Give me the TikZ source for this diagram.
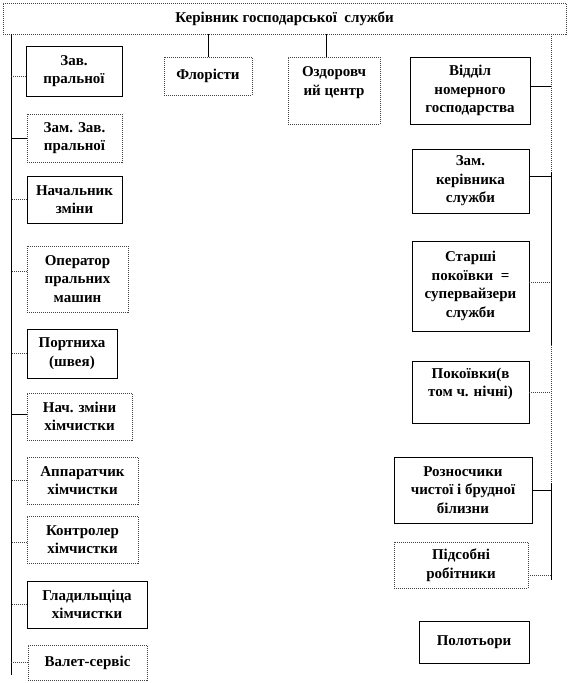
\documentclass[tikz,border=0pt]{standalone}
\usepackage{fontspec}
\setmainfont{Liberation Serif}
\usepackage{tikz}

\begin{document}
\begin{tikzpicture}[
  x=1pt,y=-1pt,
  every node/.style={font=\fontsize{15}{18.5}\selectfont\bfseries,align=center,
    inner sep=0pt,outer sep=0pt},
  solidbox/.style={draw=black,line width=0.7pt,fill=white},
  dotbox/.style={draw=black!75,line width=0.7pt,dash pattern=on 1pt off 1pt,fill=white},
  link/.style={draw=black,line width=0.7pt},
  dotlink/.style={draw=black!75,line width=0.7pt,dash pattern=on 1pt off 1pt}
]
\useasboundingbox[fill=white] (0,0) rectangle (570,683);

% head of the service
\node[dotbox,minimum width=563pt,minimum height=31pt] (head) at (284.5,18.5)
  {Керівник господарської\ \ служби};

% left column
\node[solidbox,minimum width=96pt,minimum height=50pt] (zav) at (74,71) {Зав.\\ пральної};
\node[dotbox,minimum width=95pt,minimum height=48pt] (zamzav) at (74.5,138) {Зам. Зав.\\ пральної};
\node[solidbox,minimum width=95pt,minimum height=47pt] (nach) at (74.5,199.5) {Начальник\\ зміни};
\node[dotbox,minimum width=101pt,minimum height=66pt] (oper) at (77.5,279) {Оператор\\ пральних\\ машин};
\node[solidbox,minimum width=90pt,minimum height=49pt] (port) at (72,353.5) {Портниха\\ (швея)};
\node[dotbox,minimum width=105pt,minimum height=47pt] (nachhim) at (79.5,416.5) {Нач. зміни\\ хімчистки};
\node[dotbox,minimum width=111pt,minimum height=47pt] (appar) at (82.5,480.5) {Аппаратчик\\ хімчистки};
\node[dotbox,minimum width=111pt,minimum height=47pt] (kontr) at (82.5,539.5) {Контролер\\ хімчистки};
\node[solidbox,minimum width=120pt,minimum height=47pt] (glad) at (87,604.5) {Гладильщіца\\ хімчистки};
\node[dotbox,minimum width=119pt,minimum height=35pt] (valet) at (87.5,662.5) {Валет-сервіс};

% middle
\node[dotbox,minimum width=88pt,minimum height=38pt] (flor) at (208,76) {Флорісти};
\node[dotbox,minimum width=92pt,minimum height=67pt] (ozd) at (334,90.5) {};
\node (ozd-t) at ([yshift=8pt]ozd.center) {Оздоровч\\ ий центр};

% right column
\node[solidbox,minimum width=120pt,minimum height=67pt] (viddil) at (470,90.5) {Відділ\\ номерного\\ господарства};
\node[solidbox,minimum width=117pt,minimum height=64pt] (zamker) at (470.5,181) {Зам.\\ керівника\\ служби};
\node[solidbox,minimum width=117pt,minimum height=90pt] (starshi) at (470.5,286)
  {Старші\\ покоївки\ \ =\\ супервайзери\\ служби};
\node[solidbox,minimum width=117pt,minimum height=62pt] (pokoiv) at (470.5,392) {};
\node (pokoiv-t) at ([yshift=8pt]pokoiv.center) {Покоївки(в\\ том ч. нічні)};
\node[solidbox,minimum width=138pt,minimum height=66pt] (rozn) at (463,490)
  {Розносчики\\ чистої і брудної\\ білизни};
\node[dotbox,minimum width=134pt,minimum height=46pt] (pids) at (461,565) {Підсобні\\ робітники};
\node[solidbox,minimum width=110pt,minimum height=42pt] (polot) at (474,642) {Полотьори};

% buses
\coordinate (lbot) at (11,675);
\coordinate (r1) at (551,172);
\coordinate (r2) at (551,345);
\coordinate (r3) at (551,483);
\coordinate (rbot) at (551,580);
\draw[link] (head.south -| lbot) -- (lbot);
\draw[dotlink] (head.south -| r1) -- (r1);
\draw[link] (r1) -- (r2);
\draw[dotlink] (r2) -- (r3);
\draw[link] (r3) -- (rbot);

% left links
\draw[dotlink] ([yshift=-5pt]zav.west) -- ([yshift=-5pt]zav.west -| lbot);
\draw[link] (zamzav.west) -- (zamzav.west -| lbot);
\draw[dotlink] (nach.west) -- (nach.west -| lbot);
\draw[dotlink] ([yshift=8pt]oper.west) -- ([yshift=8pt]oper.west -| lbot);
\draw[dotlink] (port.west) -- (port.west -| lbot);
\draw[link] ([yshift=2pt]nachhim.west) -- ([yshift=2pt]nachhim.west -| lbot);
\draw[dotlink] (appar.west) -- (appar.west -| lbot);
\draw[dotlink] ([yshift=-3pt]kontr.west) -- ([yshift=-3pt]kontr.west -| lbot);
\draw[dotlink] (glad.west) -- (glad.west -| lbot);
\draw[dotlink] (valet.west) -- (valet.west -| lbot);

% top links
\draw[link] (flor.north) -- (flor.north |- head.south);
\draw[link] ([xshift=-8pt]ozd.north) -- ([xshift=-8pt]ozd.north |- head.south);

% right links
\draw[link] ([yshift=4pt]viddil.east) -- ([yshift=4pt]viddil.east -| r1);
\draw[link] ([yshift=5pt]zamker.east) -- ([yshift=5pt]zamker.east -| r1);
\draw[dotlink] ([yshift=4pt]starshi.east) -- ([yshift=4pt]starshi.east -| r1);
\draw[dotlink] (pokoiv.east) -- (pokoiv.east -| r1);
\draw[link] (rozn.east) -- (rozn.east -| r1);
\draw[dotlink] ([yshift=-10pt]pids.east) -- ([yshift=-10pt]pids.east -| r1);
\end{tikzpicture}
\end{document}
